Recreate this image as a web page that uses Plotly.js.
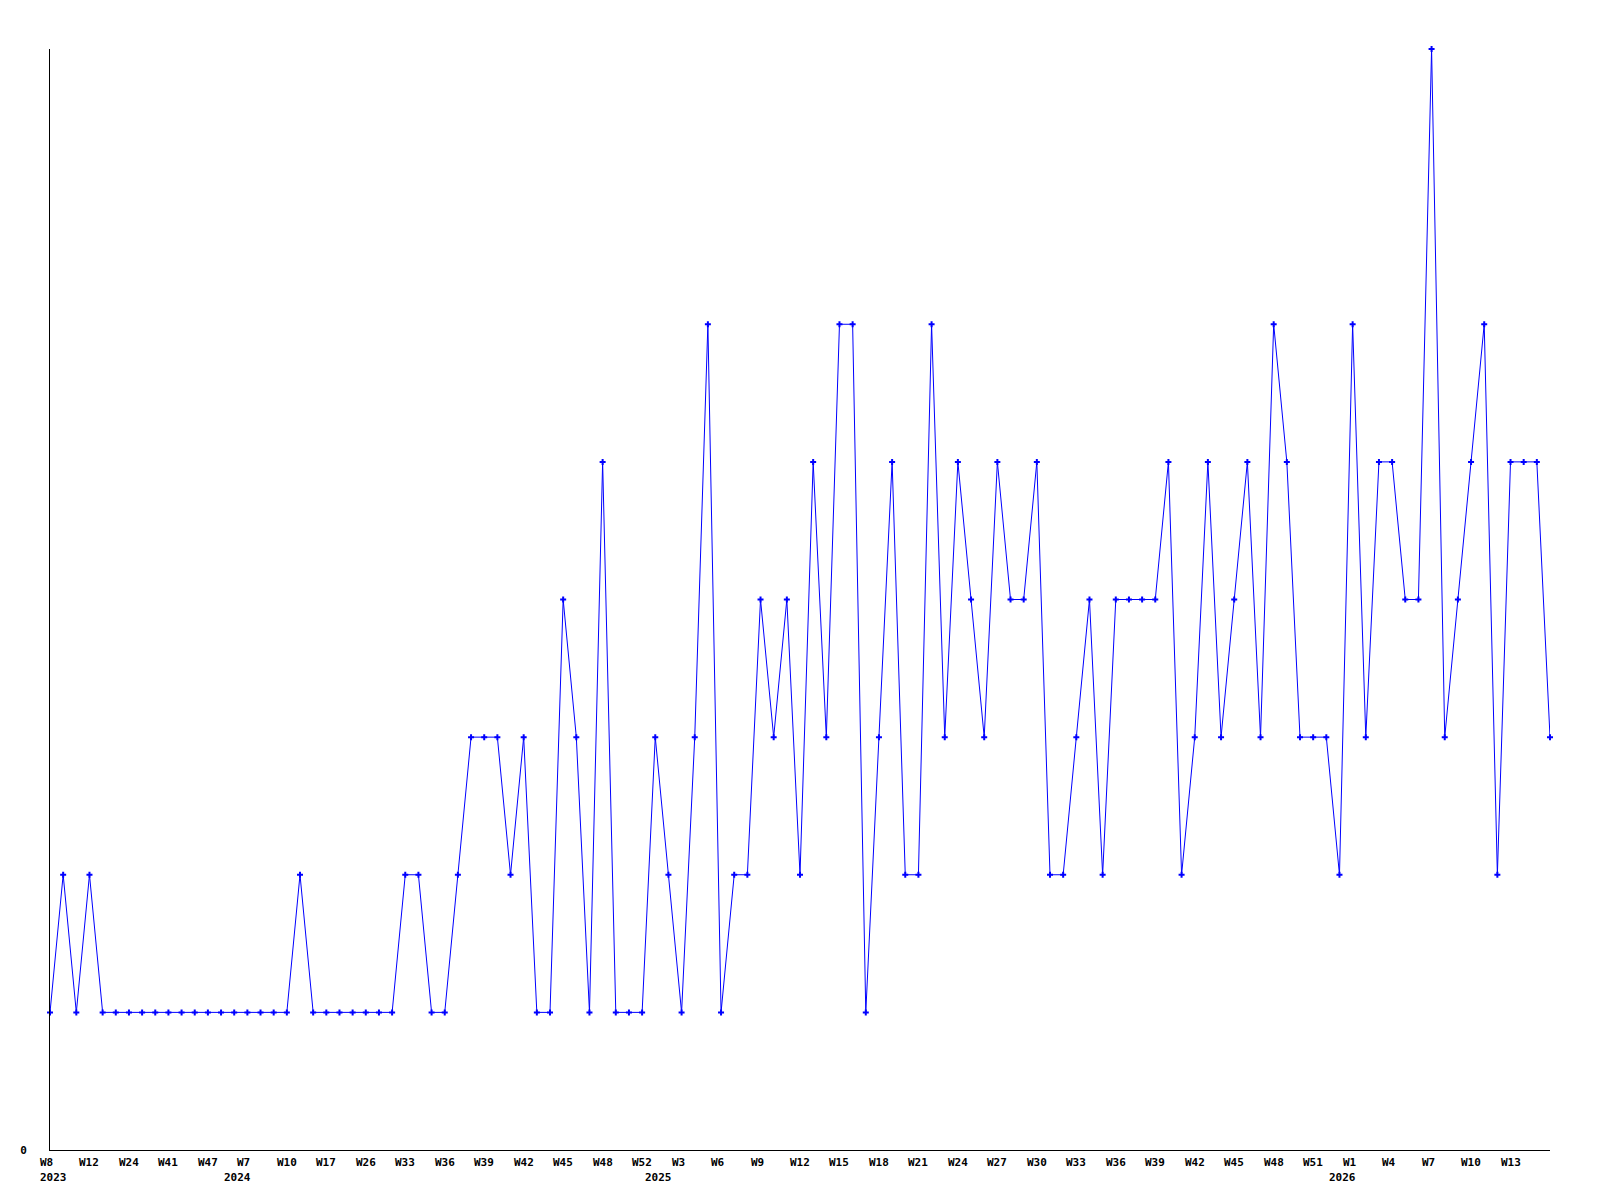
<!DOCTYPE html>
<html>
<head>
<meta charset="utf-8">
<script src="https://cdn.plot.ly/plotly-3.0.1.min.js"></script>
<style>html,body{margin:0;padding:0;background:#fff;}#chart{width:1600px;height:1200px;}</style>
</head>
<body>
<div id="chart"></div>
<script>
// ISO weeks present in the data, per year (only weeks that have a value)
const weeks2023 = [8,9,10,12,14,19,24,30,35,41,43,45,47,50];
const weeks2024 = [3,7,8,9,10,12,14,17,20,23,26,29,31,33,34,35,36,37,38,39,40,41,42,43,44,45,46,47,48,49,51,52];
const weeks2025 = [1,2,3,4,5,6,7,8,9,10,11,12,13,14,15,16,17,18,19,20,21,22,23,24,25,26,27,28,29,30,31,32,33,34,35,36,37,38,39,40,41,42,43,44,45,46,47,48,49,50,51,52,53];
const weeks2026 = [1,2,3,4,5,6,7,8,9,10,11,12,13,14,15,16];

// weekly counts
const counts = [
  1,2,1,2,1,1,1,1,1,1,1,1,1,1,1,1,1,1,1,2,1,1,1,1,1,1,1,2,2,1,1,
  2,3,3,3,2,3,1,1,4,3,1,5,1,1,1,3,2,1,3,6,1,2,2,4,3,4,2,5,3,
  6,6,1,3,5,2,2,6,3,5,4,3,5,4,4,5,2,2,3,4,2,4,4,4,4,5,2,3,5,3,
  4,5,3,6,5,3,3,3,2,6,3,5,5,4,4,8,3,4,5,6,2,5,5,5,3
];

// tick labels shown under every third category
const tickText = ['W8','W12','W24','W41','W47','W7','W10','W17','W26','W33','W36','W39','W42',
  'W45','W48','W52','W3','W6','W9','W12','W15','W18','W21','W24','W27','W30','W33','W36','W39',
  'W42','W45','W48','W51','W1','W4','W7','W10','W13'];

// year labels and the category they sit under
const yearCats = ['2023-W08','2024-W03','2025-W01','2025-W53'];
const yearText = ['2023','2024','2025','2026'];

const pad = n => (n < 10 ? '0' : '') + n;
const categories = [].concat(
  weeks2023.map(w => '2023-W' + pad(w)),
  weeks2024.map(w => '2024-W' + pad(w)),
  weeks2025.map(w => '2025-W' + pad(w)),
  weeks2026.map(w => '2026-W' + pad(w))
);

const FONT = {family: '"DejaVu Sans Mono", "Liberation Mono", monospace', size: 11, color: '#000', weight: 'bold'};

const annotations = [];
tickText.forEach((t, k) => {
  annotations.push({x: categories[k * 3], y: 0, xref: 'x', yref: 'paper', text: t,
    showarrow: false, xanchor: 'left', yanchor: 'middle', xshift: -12, yshift: -12, font: FONT});
});
yearCats.forEach((c, k) => {
  annotations.push({x: c, y: 0, xref: 'x', yref: 'paper', text: yearText[k],
    showarrow: false, xanchor: 'left', yanchor: 'middle', xshift: -12, yshift: -27, font: FONT});
});

const trace = {
  type: 'scatter', mode: 'lines+markers',
  x: categories, y: counts,
  line: {color: '#0000ff', width: 1},
  marker: {color: '#0000ff', symbol: 'cross', size: 5, line: {width: 0}},
  cliponaxis: false, hoverinfo: 'x+y'
};

const layout = {
  width: 1600, height: 1200,
  margin: {l: 50, r: 50, t: 49, b: 50, pad: 0},
  paper_bgcolor: '#fff', plot_bgcolor: '#fff',
  showlegend: false,
  font: FONT,
  xaxis: {
    type: 'category', categoryorder: 'array', categoryarray: categories,
    range: [0, categories.length - 1],
    showline: true, linecolor: '#000', linewidth: 1,
    showgrid: false, zeroline: false, ticks: '', showticklabels: false
  },
  yaxis: {
    range: [0, 8],
    showline: true, linecolor: '#000', linewidth: 1,
    showgrid: false, zeroline: false, ticks: '',
    tickmode: 'array', tickvals: [0], ticktext: ['0'],
    ticklabelstandoff: 20, tickfont: FONT
  },
  annotations: annotations
};

Plotly.newPlot('chart', [trace], layout, {displayModeBar: false, staticPlot: true});
</script>
</body>
</html>
